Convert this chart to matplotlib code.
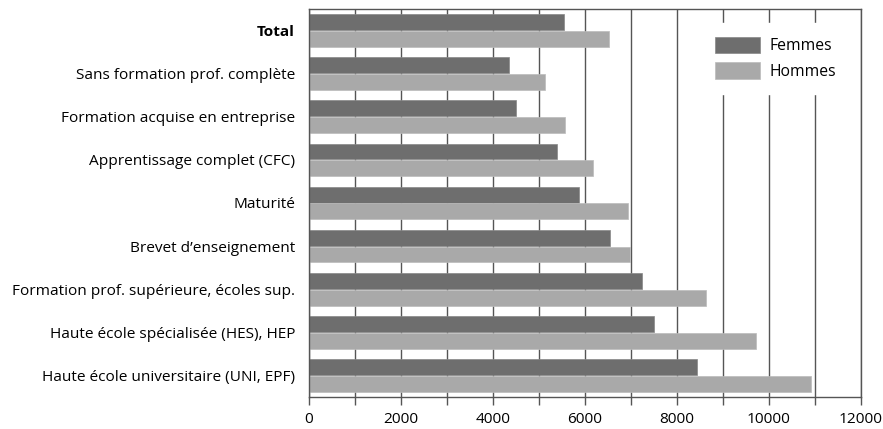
import matplotlib
matplotlib.use("Agg")
import matplotlib.pyplot as plt
import numpy as np
from matplotlib.ticker import MultipleLocator, FuncFormatter

categories = [
    "Total",
    "Sans formation prof. complète",
    "Formation acquise en entreprise",
    "Apprentissage complet (CFC)",
    "Maturité",
    "Brevet d\u2019enseignement",
    "Formation prof. supérieure, écoles sup.",
    "Haute école spécialisée (HES), HEP",
    "Haute école universitaire (UNI, EPF)",
]
femmes = [5550, 4340, 4490, 5400, 5860, 6540, 7240, 7500, 8425]
hommes = [6530, 5130, 5570, 6165, 6925, 6970, 8640, 9710, 10910]
series_labels = ["Femmes", "Hommes"]

plt.rcParams['font.family'] = ['Open Sans', 'DejaVu Sans']

fig = plt.figure(figsize=(8.83, 4.29), dpi=100)
ax = fig.add_axes([309/883, 1 - 397/429, (861-309)/883, (397-9)/429])

y = np.arange(len(categories))
h = 0.37
c_f = "#6e6e6e"
c_h = "#a9a9a9"
ax.barh(y - h/2 - 0.01, femmes, height=h, color=c_f, edgecolor="#888888", linewidth=0.5, label=series_labels[0], zorder=3)
ax.barh(y + h/2 + 0.01, hommes, height=h, color=c_h, edgecolor="#bbbbbb", linewidth=0.5, label=series_labels[1], zorder=3)

ax.set_ylim(len(categories) - 0.5, -0.5)
ax.set_xlim(0, 12000)
ax.set_yticks(y)
ax.set_yticklabels(categories, fontsize=11.1)
ax.get_yticklabels()[0].set_fontweight("bold")
ax.tick_params(axis='y', length=0, pad=10)

ax.xaxis.set_major_locator(MultipleLocator(1000))
ax.xaxis.set_major_formatter(FuncFormatter(lambda v, p: f"{int(v)}" if int(round(v)) % 2000 == 0 else ""))
ax.tick_params(axis='x', direction='out', length=6, width=1, color="#555555", labelsize=11.1, pad=5)
ax.grid(axis='x', color="#555555", linewidth=1, zorder=1)
for s in ax.spines.values():
    s.set_color("#555555")
    s.set_linewidth(1)
    s.set_zorder(4)

leg = ax.legend(loc="upper right", bbox_to_anchor=(0.995, 0.985), frameon=True, fontsize=11.3,
                handlelength=2.9, handleheight=1.25, borderpad=0.9, handletextpad=0.6,
                labelspacing=0.5, fancybox=False)
leg.get_frame().set_edgecolor("white")
leg.get_frame().set_facecolor("white")
leg.get_frame().set_alpha(1)
leg.set_zorder(5)

fig.savefig("out.png", dpi=100)
